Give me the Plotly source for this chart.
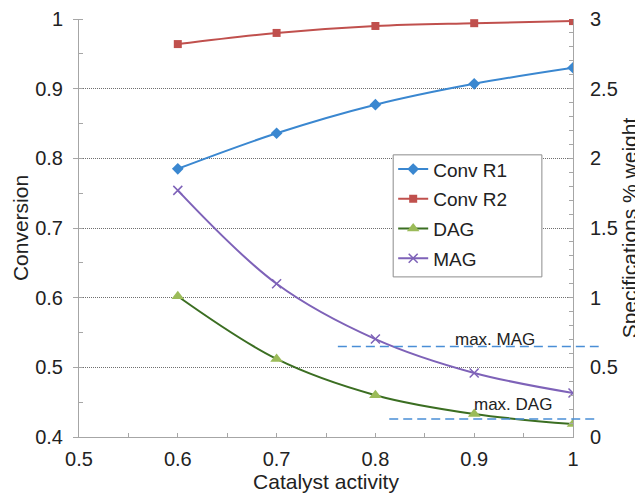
import plotly.graph_objects as go

# ---- data ----
catalyst_activity = [0.6, 0.7, 0.8, 0.9, 1.0]
conv_r1 = [0.785, 0.836, 0.877, 0.907, 0.930]
conv_r2 = [0.964, 0.980, 0.990, 0.994, 0.997]
dag = [1.01, 0.56, 0.30, 0.165, 0.093]
mag = [1.77, 1.10, 0.703, 0.46, 0.316]

max_mag = 0.65
max_dag = 0.13
max_mag_start = 0.762
max_dag_start = 0.814
max_line_end = 1.026

x_range = [0.5, 1.0]
y_range = [0.4, 1.0]
y2_range = [0.0, 3.0]

FONT = "Liberation Sans, Arial, sans-serif"
BLUE = "#3A87D0"
RED = "#C0504D"
GREEN_LINE = "#3B6E22"
GREEN_MK = "#9BBB59"
PURPLE = "#7E62B8"
DASH = "#4A8ED6"
AXIS = "#A6A6A6"

fig = go.Figure()
fig.add_trace(go.Scatter(
    x=catalyst_activity, y=conv_r1, name="Conv R1", mode="lines+markers",
    line=dict(color=BLUE, width=2, shape="spline"),
    marker=dict(symbol="diamond", size=9, color=BLUE), legendgroup="a"))
fig.add_trace(go.Scatter(
    x=catalyst_activity, y=conv_r2, name="Conv R2", mode="lines+markers",
    line=dict(color=RED, width=2, shape="spline"),
    marker=dict(symbol="square", size=8, color=RED), legendgroup="b"))
fig.add_trace(go.Scatter(
    x=catalyst_activity, y=dag, name="DAG", mode="lines+markers", yaxis="y2",
    line=dict(color=GREEN_LINE, width=2, shape="spline"),
    marker=dict(symbol="triangle-up", size=11, color=GREEN_MK), legendgroup="c"))
fig.add_trace(go.Scatter(
    x=catalyst_activity, y=mag, name="MAG", mode="lines+markers", yaxis="y2",
    line=dict(color=PURPLE, width=2, shape="spline"),
    marker=dict(symbol="x-thin-open", size=9, color=PURPLE, line=dict(width=1.5, color=PURPLE)),
    legendgroup="d"))


def to_paper(v):
    return (v - x_range[0]) / (x_range[1] - x_range[0])


for start, val in [(max_mag_start, max_mag), (max_dag_start, max_dag)]:
    fig.add_shape(type="line", xref="paper", yref="y2",
                  x0=to_paper(start), x1=to_paper(max_line_end), y0=val, y1=val,
                  line=dict(color=DASH, width=1.5, dash="9px,5px"))

# legend frame (white box with grey border)
fig.add_shape(type="rect", xref="paper", yref="paper", layer="above",
              x0=0.636, x1=0.937, y0=0.383, y1=0.675,
              fillcolor="white", line=dict(color="#8c8c8c", width=1))

fig.add_annotation(x=0.921, y=0.70, xref="x", yref="y2", text="max. MAG",
                   showarrow=False, font=dict(family=FONT, size=17, color="#222"))
fig.add_annotation(x=0.939, y=0.23, xref="x", yref="y2", text="max. DAG",
                   showarrow=False, font=dict(family=FONT, size=17, color="#222"))

# page body has an 8px margin: figure is sized/margined to land on the reference grid
fig.update_layout(
    width=635, height=486,
    margin=dict(l=71, r=70, t=11, b=57, autoexpand=False),
    paper_bgcolor="white", plot_bgcolor="white",
    font=dict(family=FONT, size=19, color="#222"),
    showlegend=True,
    legend=dict(x=0.636, y=0.686, xanchor="left", yanchor="top",
                bgcolor="rgba(0,0,0,0)", borderwidth=0,
                font=dict(family=FONT, size=19, color="#222"),
                tracegroupgap=2),
    xaxis=dict(range=x_range, dtick=0.1, tick0=0.5, showgrid=False, zeroline=False,
               automargin=False,
               showline=True, linecolor=AXIS, linewidth=1,
               ticks="inside", ticklen=4, tickcolor=AXIS,
               minor=dict(dtick=0.05, ticks="inside", ticklen=4, tickcolor=AXIS),
               tickfont=dict(size=20), ticklabelstandoff=4,
               title=dict(text="Catalyst activity", font=dict(size=21), standoff=2)),
    yaxis=dict(range=y_range, dtick=0.1, tick0=0.4, zeroline=False,
               automargin=False,
               showline=True, linecolor=AXIS, linewidth=1,
               showgrid=True, gridcolor="#6f6f6f", gridwidth=1, griddash="1px,1px",
               ticks="outside", ticklen=5, tickcolor=AXIS,
               minor=dict(dtick=0.05, ticks="inside", ticklen=4, tickcolor=AXIS, showgrid=False),
               tickfont=dict(size=20), ticklabelstandoff=6,
               title=dict(text="Conversion", font=dict(size=21), standoff=0)),
    yaxis2=dict(range=y2_range, dtick=0.5, tick0=0, overlaying="y", side="right",
                automargin=False,
                showgrid=False, zeroline=False,
                showline=True, linecolor=AXIS, linewidth=1,
                ticks="inside", ticklen=5, tickcolor=AXIS,
                minor=dict(dtick=0.1, ticks="inside", ticklen=4, tickcolor=AXIS),
                tickfont=dict(size=20), ticklabelstandoff=12,
                title=dict(text="Specifications % weight", font=dict(size=21), standoff=4)),
)

fig.write_html("out.html")
